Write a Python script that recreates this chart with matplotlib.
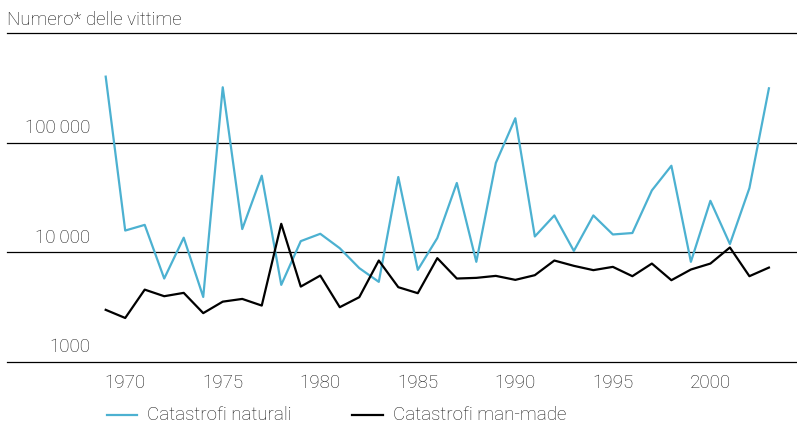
import matplotlib
matplotlib.use("Agg")
import matplotlib.pyplot as plt
from matplotlib.lines import Line2D

plt.rcParams['font.family'] = ['Roboto', 'DejaVu Sans']

years = list(range(1969, 2004))

naturali = [400000, 15800, 17800, 5770, 13600, 3920, 320000, 16300, 50000, 5050,
            12650, 14760, 10900, 7180, 5380, 48600, 6920, 13500, 42900, 8190,
            65300, 167000, 13950, 21700, 10300, 21700, 14550, 15000, 36700, 61600,
            8190, 29500, 11900, 38500, 313000]

# victims, man-made catastrophes
man_made = [2990, 2520, 4570, 3980, 4270, 2790, 3550, 3760, 3270, 18200,
            4870, 6140, 3160, 3900, 8420, 4810, 4240, 8850, 5770, 5850,
            6100, 5610, 6190, 8420, 7530, 6880, 7370, 6060, 7900, 5570,
            6970, 7900, 11070, 6060, 7260]

grid_vals = [1000, 10000, 100000, 1000000]
grid_labels = ['1000', '10\u2009000', '100\u2009000', '']
xticks = [1970, 1975, 1980, 1985, 1990, 1995, 2000]

blue = '#4cb1d1'
txt = '#1a1a1a'
fs = 13.5

fig = plt.figure(figsize=(7.97, 4.24), dpi=100)
ax = fig.add_axes([7/797, 1 - 362/424, 790/797, (362-33)/424])

for g in grid_vals:
    ax.axhline(g, color='black', lw=0.9, zorder=1, clip_on=False)

ax.plot(years, naturali, color=blue, lw=1.6, zorder=3)
ax.plot(years, man_made, color='black', lw=1.6, zorder=3)

ax.set_yscale('log')
ax.set_ylim(1000, 1000000)
ax.set_xlim(1963.94, 2004.44)

# y labels sit just above their grid line
for g, lab in zip(grid_vals, grid_labels):
    if lab:
        ax.annotate(lab, xy=(90/797, g), xycoords=('figure fraction', 'data'),
                    xytext=(0, 4), textcoords='offset points',
                    ha='right', va='bottom', fontsize=fs, fontweight='light',
                    color=txt)

ax.set_yticks([])
ax.minorticks_off()
ax.set_xticks(xticks)
ax.set_xticklabels([str(x) for x in xticks], fontsize=fs, fontweight='light',
                   color=txt)
ax.tick_params(axis='x', length=0, pad=9)
ax.tick_params(axis='y', which='both', length=0)
for s in ax.spines.values():
    s.set_visible(False)

fig.text(7/797, 1 - 20/424, 'Numero* delle vittime', fontsize=fs,
         fontweight='light', color=txt, va='center', ha='left')

# legend
ly = 1 - 415/424
fig.add_artist(Line2D([107/797, 137/797], [ly, ly], color=blue, lw=1.6))
fig.text(147/797, ly, 'Catastrofi naturali', fontsize=fs, fontweight='light',
         color=txt, va='center', ha='left')
fig.add_artist(Line2D([352/797, 383/797], [ly, ly], color='black', lw=1.6))
fig.text(393/797, ly, 'Catastrofi man-made', fontsize=fs, fontweight='light',
         color=txt, va='center', ha='left')

fig.savefig('out.png', dpi=100)
